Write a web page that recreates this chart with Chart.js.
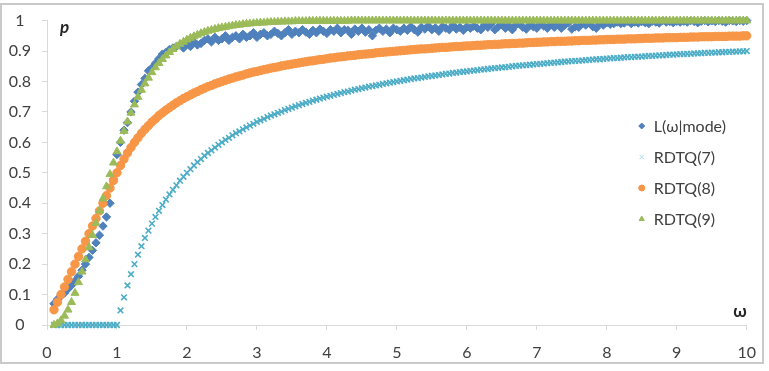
<!DOCTYPE html>
<html>
<head>
<meta charset="utf-8">
<script src="https://cdn.jsdelivr.net/npm/chart.js@4.4.1/dist/chart.umd.min.js"></script>
<style>
  html, body { margin: 0; padding: 0; background: #fff; }
  #wrap { width: 769px; height: 371px; }
</style>
</head>
<body>
<div id="wrap"><canvas id="chart" width="769" height="371"></canvas></div>
<script>
// omega runs 0.10, 0.15 ... 10.00 ; one row of 20 values per unit of omega
const modeL = [
  .07, .085, .095, .105, .118, .13, .145, .16, .18, .20, .222, .245, .27, .295, .325, .355, .40, .48, .56, .60,
  .64, .665, .70, .735, .765, .79, .81, .835, .845, .86, .875, .89, .895, .905, .91, .915, .92, .91, .925, .915,
  .93, .92, .925, .935, .94, .93, .945, .935, .94, .95, .935, .945, .95, .94, .955, .945, .95, .96, .945, .955,
  .96, .95, .955, .965, .958, .95, .96, .97, .955, .965, .96, .97, .962, .955, .968, .96, .972, .965, .958, .97,
  .965, .975, .96, .97, .968, .955, .972, .965, .975, .962, .97, .95, .968, .975, .965, .972, .96, .975, .97, .965,
  .975, .968, .98, .97, .962, .978, .972, .982, .97, .976, .965, .98, .975, .97, .985, .972, .978, .968, .98, .975,
  .982, .975, .97, .985, .978, .99, .97, .98, .988, .975, .983, .97, .985, .99, .978, .972, .986, .98, .975, .99,
  .982, .975, .988, .978, .99, .975, .985, .992, .972, .98, .978, .99, .985, .995, .98, .975, .99, .985, .993, .988,
  .99, .995, .99, .992, .998, .99, .995, .992, .997, .993, .99, .998, .995, .992, 1, .995, .997, .993, .998, .995,
  .998, .995, 1, .997, .993, .998, 1, .996, .999, .997, 1, .998, .995, 1, .999, .997, 1, .998, 1
];
const rdtq7 = [
  0, 0, 0, 0, 0, 0, 0, 0, 0, 0, 0, 0, 0, 0, 0, 0, 0, 0, 0, .048,
  .091, .130, .167, .200, .231, .259, .286, .310, .333, .355, .375, .394, .412, .429, .444, .459, .474, .487, .500, .512,
  .524, .535, .545, .556, .565, .574, .583, .592, .600, .608, .615, .623, .630, .636, .643, .649, .655, .661, .667, .672,
  .677, .683, .688, .692, .697, .701, .706, .710, .714, .718, .722, .726, .730, .733, .737, .740, .744, .747, .750, .753,
  .756, .759, .762, .765, .767, .770, .773, .775, .778, .780, .783, .785, .787, .789, .792, .794, .796, .798, .800, .802,
  .804, .806, .808, .810, .811, .813, .815, .817, .818, .820, .821, .823, .825, .826, .828, .829, .831, .832, .833, .835,
  .836, .837, .839, .840, .841, .843, .844, .845, .846, .847, .848, .850, .851, .852, .853, .854, .855, .856, .857, .858,
  .859, .860, .861, .862, .863, .864, .865, .866, .867, .868, .868, .869, .870, .871, .872, .873, .873, .874, .875, .876,
  .877, .877, .878, .879, .880, .880, .881, .882, .882, .883, .884, .884, .885, .886, .886, .887, .888, .888, .889, .890,
  .890, .891, .891, .892, .892, .893, .894, .894, .895, .895, .896, .896, .897, .897, .898, .898, .899, .899, .900
];
const rdtq8 = [
  .05, .075, .10, .125, .15, .175, .20, .225, .25, .275, .30, .325, .35, .375, .40, .425, .45, .475, .50, .524,
  .545, .565, .583, .60, .615, .630, .643, .655, .667, .677, .688, .697, .706, .714, .722, .730, .737, .744, .75, .756,
  .762, .767, .773, .778, .783, .787, .792, .796, .80, .804, .808, .811, .815, .818, .821, .825, .828, .831, .833, .836,
  .839, .841, .844, .846, .848, .851, .853, .855, .857, .859, .861, .863, .865, .867, .868, .870, .872, .873, .875, .877,
  .878, .880, .881, .882, .884, .885, .886, .888, .889, .890, .891, .892, .894, .895, .896, .897, .898, .899, .900, .901,
  .902, .903, .904, .905, .906, .907, .907, .908, .909, .910, .911, .912, .912, .913, .914, .915, .915, .916, .917, .917,
  .918, .919, .919, .920, .921, .921, .922, .922, .923, .924, .924, .925, .925, .926, .926, .927, .928, .928, .929, .929,
  .930, .930, .931, .931, .932, .932, .932, .933, .933, .934, .934, .935, .935, .935, .936, .936, .937, .937, .938, .938,
  .938, .939, .939, .939, .940, .940, .940, .941, .941, .942, .942, .942, .943, .943, .943, .944, .944, .944, .944, .945,
  .945, .945, .946, .946, .946, .947, .947, .947, .947, .948, .948, .948, .948, .949, .949, .949, .949, .950, .950
];
const rdtq9 = [
  0, .005, .015, .03, .05, .075, .105, .14, .175, .215, .255, .295, .335, .375, .415, .455, .495, .533, .57, .605,
  .637, .668, .697, .724, .749, .772, .793, .812, .83, .846, .86, .873, .885, .896, .906, .915, .923, .93, .937, .943,
  .948, .953, .958, .962, .966, .969, .972, .975, .977, .979, .981, .983, .985, .986, .988, .989, .99, .991, .992, .993,
  .993, .994, .995, .995, .996, .996, .997, .997, .997, .998, .998, .998, .998, .999, .999, .999, .999, .999, .999, .999,
  .999, .999, .999, .999, .999, 1, 1, 1, 1, 1, 1, 1, 1, 1, 1, 1, 1, 1, 1, 1,
  1, 1, 1, 1, 1, 1, 1, 1, 1, 1, 1, 1, 1, 1, 1, 1, 1, 1, 1, 1,
  1, 1, 1, 1, 1, 1, 1, 1, 1, 1, 1, 1, 1, 1, 1, 1, 1, 1, 1, 1,
  1, 1, 1, 1, 1, 1, 1, 1, 1, 1, 1, 1, 1, 1, 1, 1, 1, 1, 1, 1,
  1, 1, 1, 1, 1, 1, 1, 1, 1, 1, 1, 1, 1, 1, 1, 1, 1, 1, 1, 1,
  1, 1, 1, 1, 1, 1, 1, 1, 1, 1, 1, 1, 1, 1, 1, 1, 1, 1, 1
];
const seriesNames = ["L(ω|mode)", "RDTQ(7)", "RDTQ(8)", "RDTQ(9)"];
const xTickLabels = ["0", "1", "2", "3", "4", "5", "6", "7", "8", "9", "10"];
const yTickLabels = ["0", "0.1", "0.2", "0.3", "0.4", "0.5", "0.6", "0.7", "0.8", "0.9", "1"];

// sample grid for omega
const omega = modeL.map((_, i) => +(0.1 + 0.05 * i).toFixed(2));
const toPoints = (vals) => vals.map((v, i) => ({ x: omega[i], y: v }));

const colors = ["#4F81BD", "#4BACC6", "#F79646", "#9BBB59"];
const styles = ["rectRot", "crossRot", "circle", "triangle"];

Chart.defaults.font.family = "Lato, 'Open Sans', sans-serif";
Chart.defaults.font.size = 16;
Chart.defaults.color = "#404040";

function makeSet(i, vals, radius, border, order) {
  return {
    label: seriesNames[i],
    data: toPoints(vals),
    showLine: false,
    pointStyle: styles[i],
    pointRadius: radius,
    pointHoverRadius: radius,
    pointBorderWidth: border,
    borderColor: colors[i],
    backgroundColor: colors[i],
    clip: false,
    order: order
  };
}

// frame, axis letters and the legend on the right
const decorations = {
  id: "decorations",
  beforeDraw(chart) {
    const c = chart.ctx;
    c.save();
    c.fillStyle = "#fff";
    c.fillRect(0, 0, chart.width, chart.height);
    c.strokeStyle = "#C9C9C9";
    c.lineWidth = 2;
    c.strokeRect(1, 4, 762, 359);
    c.restore();
  },
  afterDraw(chart) {
    const c = chart.ctx;
    const area = chart.chartArea;
    c.save();
    c.fillStyle = "#262626";
    c.textBaseline = "alphabetic";
    c.font = "italic bold 17px Lato, 'Open Sans', sans-serif";
    c.textAlign = "left";
    c.fillText("p", area.left + 13, area.top + 12);
    c.font = "bold 17px Lato, 'Open Sans', sans-serif";
    c.textAlign = "right";
    c.fillText("ω", area.right, area.bottom - 8);

    const lx = area.right - 105;
    c.font = "16px Lato, 'Open Sans', sans-serif";
    c.textAlign = "left";
    c.textBaseline = "middle";
    seriesNames.forEach((name, i) => {
      const ly = 126 + i * 31;
      c.fillStyle = colors[i];
      c.strokeStyle = i === 1 ? "#A9DCE8" : colors[i];
      Chart.helpers.drawPoint(c, { pointStyle: styles[i], radius: 3, rotation: 0, borderWidth: 1 }, lx, ly);
      c.fillStyle = "#404040";
      c.fillText(name, lx + 12, ly + 1);
    });
    c.restore();
  }
};

new Chart(document.getElementById("chart"), {
  type: "scatter",
  data: {
    datasets: [
      makeSet(0, modeL, 4.2, 1, 3),
      makeSet(1, rdtq7, 4, 1.6, 2),
      makeSet(2, rdtq8, 4.2, 1, 1),
      makeSet(3, rdtq9, 4.6, 1, 0)
    ]
  },
  options: {
    responsive: false,
    animation: false,
    devicePixelRatio: 1,
    layout: { padding: { left: 0, top: 17, right: 22, bottom: 0 } },
    plugins: {
      legend: { display: false },
      tooltip: { enabled: false }
    },
    scales: {
      x: {
        type: "linear",
        min: 0,
        max: 10,
        afterFit: (s) => { s.height = 46; },
        afterBuildTicks: (s) => { s.ticks = xTickLabels.map((t) => ({ value: Number(t) })); },
        ticks: { padding: 13, callback: (v, i) => xTickLabels[i] },
        grid: { drawOnChartArea: false, drawTicks: true, tickLength: 5, color: "#D9D9D9" },
        border: { color: "#D9D9D9", width: 1 }
      },
      y: {
        min: 0,
        max: 1,
        afterFit: (s) => { s.width = 47; },
        afterBuildTicks: (s) => { s.ticks = yTickLabels.map((t) => ({ value: Number(t) })); },
        ticks: { padding: 11, crossAlign: "center", callback: (v, i) => yTickLabels[i] },
        grid: { drawOnChartArea: false, drawTicks: true, tickLength: 5, color: "#D9D9D9" },
        border: { color: "#D9D9D9", width: 1 }
      }
    }
  },
  plugins: [decorations]
});
</script>
</body>
</html>
